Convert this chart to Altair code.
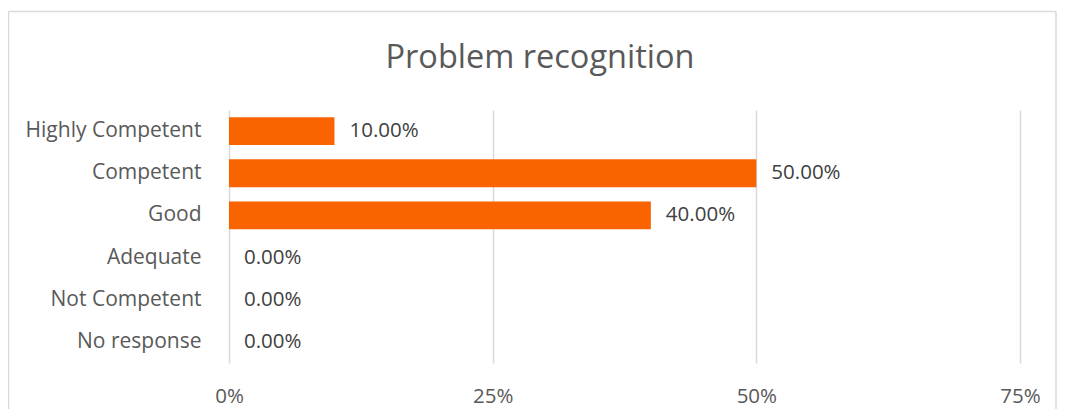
import altair as alt
import pandas as pd

categories = ["Highly Competent", "Competent", "Good ", "Adequate", "Not Competent", "No response"]
values = [0.10, 0.50, 0.40, 0.0, 0.0, 0.0]
title_text = "Problem recognition"
tick_values = [0, 0.25, 0.5, 0.75]

df = pd.DataFrame({"cat": categories, "val": values})

FONT = "Open Sans"
GRAY = "#595959"
W, H = 791, 253
PL, PT, PR, PB = 221, 102, 37, 46

x = alt.X("val:Q", scale=alt.Scale(domain=[0, 0.75], nice=False, zero=True),
          axis=alt.Axis(values=tick_values, format=".0%", title=None, grid=True,
                        gridColor="#D9D9D9", gridWidth=1.5, domain=False, ticks=False,
                        labelFlush=False, labelFont=FONT, labelFontSize=20.5,
                        labelColor=GRAY, labelPadding=23))
y = alt.Y("cat:N", sort=categories,
          scale=alt.Scale(paddingInner=0.34, paddingOuter=0.17),
          axis=alt.Axis(title=None, domain=False, ticks=False, grid=False, labelFont=FONT,
                        labelFontSize=21, labelColor=GRAY, labelPadding=28))

bars = alt.Chart(df).mark_bar(color="#FA6400").encode(x=x, y=y)
labels = alt.Chart(df).mark_text(align="left", baseline="middle", dx=15, font=FONT,
                                 fontSize=20.5, color="#404040").encode(
    x="val:Q", y=alt.Y("cat:N", sort=categories), text=alt.Text("val:Q", format=".2%"))

title = alt.Chart(pd.DataFrame({"t": [title_text]})).mark_text(
    font=FONT, fontSize=32.5, color=GRAY, align="center", baseline="middle").encode(
    x=alt.value(311), y=alt.value(-52), text="t:N")

border_df = pd.DataFrame({"a": [0]})
top = alt.Chart(border_df).mark_rule(color="#D9D9D9", strokeWidth=1.5).encode(
    x=alt.value(-220.5), x2=alt.value(W + PR - 1), y=alt.value(-98.5))
left = alt.Chart(border_df).mark_rule(color="#D9D9D9", strokeWidth=1.5).encode(
    x=alt.value(-220.5), y=alt.value(-98.5), y2=alt.value(H + PB))
right = alt.Chart(border_df).mark_rule(color="#D9D9D9", strokeWidth=1.5).encode(
    x=alt.value(W + PR - 1), y=alt.value(-98.5), y2=alt.value(H + PB))

chart = alt.layer(bars, labels, title, top, left, right).properties(
    width=W, height=H,
    autosize=alt.AutoSizeParams(type="none"),
    padding={"left": PL, "top": PT, "right": PR, "bottom": PB},
).configure(background="white").configure_view(stroke="transparent", strokeWidth=0)

chart.save("out.html", embed_options={"renderer": "svg", "actions": False})
